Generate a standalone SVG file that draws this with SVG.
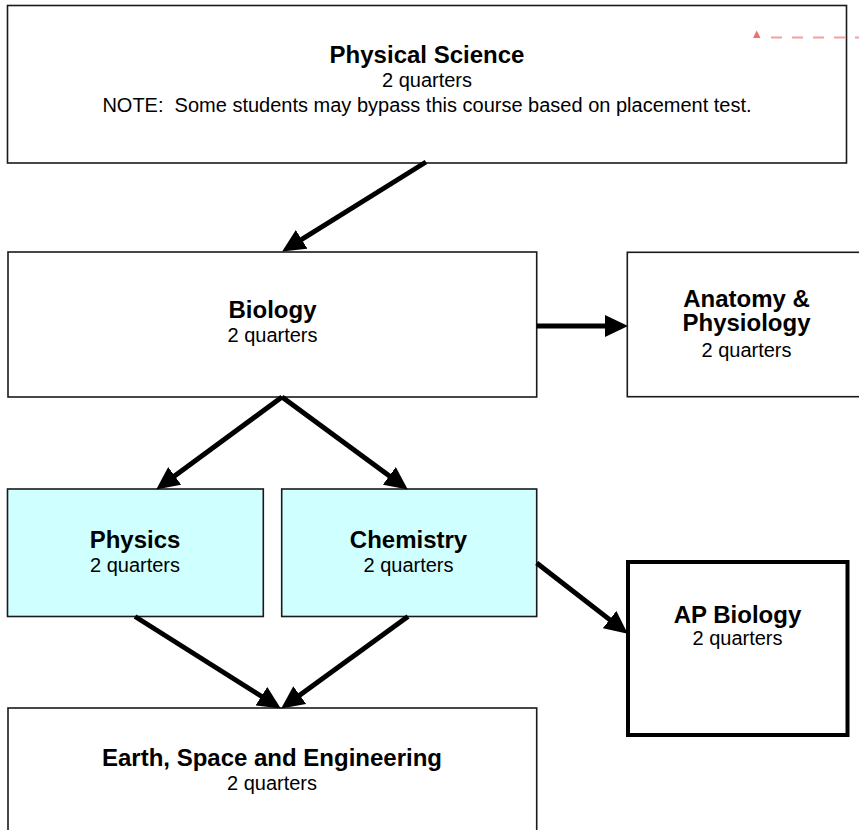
<svg xmlns="http://www.w3.org/2000/svg" width="859" height="830" viewBox="0 0 859 830">
<style>
.box{fill:#ffffff;stroke:#1a1a1a;stroke-width:1.6}
.cyan{fill:#d0ffff}
.thick{stroke:#000;stroke-width:4}
.t{font-family:"Liberation Sans",Arial,sans-serif;fill:#000;text-anchor:middle}
.b{font-weight:bold;font-size:24px}
.r{font-size:20px}
.conn{stroke:#000;stroke-width:5;fill:none}
</style>
<defs>
<marker id="ah" markerUnits="userSpaceOnUse" markerWidth="24" markerHeight="22" viewBox="0 0 24 22" refX="7" refY="11" orient="auto">
<path d="M0,0 L23,11 L0,22 z" fill="#000"/>
</marker>
</defs>
<rect width="859" height="830" fill="#ffffff"/>

<g id="physical-science">
<rect class="box" x="7.5" y="5.5" width="839" height="157.5"/>
<text class="t b" x="427" y="63">Physical Science</text>
<text class="t r" x="427" y="87">2 quarters</text>
<text class="t r" x="427" y="111.5" xml:space="preserve">NOTE:  Some students may bypass this course based on placement test.</text>
</g>

<g id="red-marker">
<polygon points="756.7,30.5 753,38 760.5,38" fill="#f07070"/>
<line x1="771" y1="37.5" x2="859" y2="37.5" stroke="#f4a0a0" stroke-width="2" stroke-dasharray="11,10"/>
</g>

<g id="biology">
<rect class="box" x="8" y="252" width="528.7" height="145"/>
<text class="t b" x="272.5" y="318.3">Biology</text>
<text class="t r" x="272.5" y="342.3">2 quarters</text>
</g>

<g id="anatomy">
<rect class="box" x="627.3" y="252.3" width="250" height="144.4"/>
<text class="t b" x="746.5" y="306.7">Anatomy &amp;</text>
<text class="t b" x="746.5" y="331">Physiology</text>
<text class="t r" x="746.5" y="357.3">2 quarters</text>
</g>

<g id="physics">
<rect class="box cyan" x="7.5" y="489" width="255.8" height="127.5"/>
<text class="t b" x="135" y="548.3">Physics</text>
<text class="t r" x="135" y="571.7">2 quarters</text>
</g>

<g id="chemistry">
<rect class="box cyan" x="281.7" y="489" width="255" height="127.5"/>
<text class="t b" x="408.5" y="548.3">Chemistry</text>
<text class="t r" x="408.5" y="571.7">2 quarters</text>
</g>

<g id="ap-biology">
<rect class="box thick" x="628" y="562" width="219.5" height="173"/>
<text class="t b" x="737.5" y="623.3">AP Biology</text>
<text class="t r" x="737.5" y="645">2 quarters</text>
</g>

<g id="earth-space">
<rect class="box" x="8" y="708" width="528.7" height="140"/>
<text class="t b" x="272" y="765.7">Earth, Space and Engineering</text>
<text class="t r" x="272" y="790">2 quarters</text>
</g>

<g id="connectors">
<line class="conn" x1="426" y1="162" x2="295.7" y2="243.1" marker-end="url(#ah)"/>
<line class="conn" x1="536.7" y1="326" x2="612" y2="326" marker-end="url(#ah)"/>
<line class="conn" x1="282" y1="397" x2="169.1" y2="480.1" marker-end="url(#ah)"/>
<line class="conn" x1="282" y1="397" x2="394.9" y2="480.1" marker-end="url(#ah)"/>
<line class="conn" x1="536.7" y1="563" x2="615.1" y2="623.9" marker-end="url(#ah)"/>
<line class="conn" x1="135" y1="616.5" x2="267.3" y2="700" marker-end="url(#ah)"/>
<line class="conn" x1="408" y1="616.5" x2="294.1" y2="699.2" marker-end="url(#ah)"/>
</g>
</svg>
